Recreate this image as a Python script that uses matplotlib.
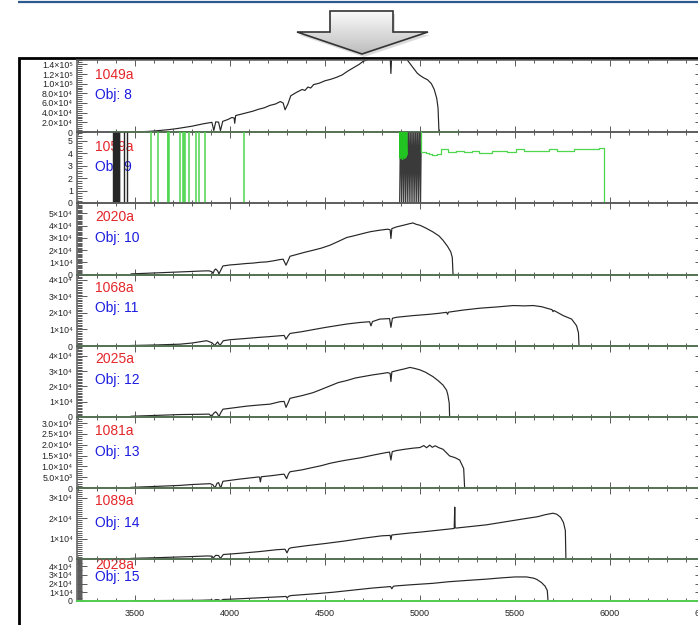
import matplotlib

matplotlib.use("Agg")
import matplotlib.pyplot as plt
import numpy as np
from matplotlib.patches import Polygon
from matplotlib.ticker import AutoMinorLocator, FixedLocator, MultipleLocator

plt.rcParams["font.family"] = ["Liberation Sans", "DejaVu Sans"]

FIG_W, FIG_H = 698, 625

# ---- data ----------------------------------------------------------------
OBJECT_NAMES = ["1049a", "1059a", "2020a", "1068a", "2025a", "1081a", "1089a", "2028a"]
OBJECT_IDS = ["Obj: 8", "Obj: 9", "Obj: 10", "Obj: 11", "Obj: 12", "Obj: 13", "Obj: 14", "Obj: 15"]
Y_MAX = [1.5e5, 5.7, 5.84e4, 4.33e4, 4.64e4, 3.28e4, 3.49e4, 4.8e4]
Y_TICKS = [
    [0, 2e4, 4e4, 6e4, 8e4, 1e5, 1.2e5, 1.4e5],
    [0, 1, 2, 3, 4, 5],
    [0, 1e4, 2e4, 3e4, 4e4, 5e4],
    [0, 1e4, 2e4, 3e4, 4e4],
    [0, 1e4, 2e4, 3e4, 4e4],
    [0, 5e3, 1e4, 1.5e4, 2e4, 2.5e4, 3e4],
    [0, 1e4, 2e4, 3e4],
    [0, 1e4, 2e4, 3e4, 4e4],
]
Y_TICK_LABELS = [
    ["0", "2.0×10⁴", "4.0×10⁴", "6.0×10⁴", "8.0×10⁴", "1.0×10⁵", "1.2×10⁵", "1.4×10⁵"],
    ["0", "1", "2", "3", "4", "5"],
    ["0", "1×10⁴", "2×10⁴", "3×10⁴", "4×10⁴", "5×10⁴"],
    ["0", "1×10⁴", "2×10⁴", "3×10⁴", "4×10⁴"],
    ["0", "1×10⁴", "2×10⁴", "3×10⁴", "4×10⁴"],
    ["0", "5.0×10³", "1.0×10⁴", "1.5×10⁴", "2.0×10⁴", "2.5×10⁴", "3.0×10⁴"],
    ["0", "1×10⁴", "2×10⁴", "3×10⁴"],
    ["0", "1×10⁴", "2×10⁴", "3×10⁴", "4×10⁴"],
]
X_TICKS = [3500, 4000, 4500, 5000, 5500, 6000, 6500]

# spectra, flux in units of 1e3
WAVE_1049 = [3480, 3520, 3560, 3600, 3640, 3680, 3720, 3760, 3800, 3830, 3860, 3890, 3905, 3915,
             3925, 3940, 3950, 3962, 3990, 4010, 4022, 4025, 4030, 4060, 4090, 4120, 4150, 4180,
             4210, 4240, 4265, 4280, 4290, 4305, 4320, 4350, 4380, 4395, 4410, 4425, 4440, 4470,
             4500, 4530, 4560, 4590, 4620, 4650, 4680, 4700, 4740, 4780, 4820, 4843, 4847, 4851,
             4890, 4920, 4935, 4960, 4985, 5000, 5020, 5040, 5060, 5075, 5088, 5095, 5100, 5110]
FLUX_1049 = [0, 0.5, 1, 2, 3.5, 5, 7, 9.5, 12, 14.5, 17, 19, 20, 3,
             21, 20.5, 3, 22, 26, 30, 29, 18, 34, 37, 40, 43, 47, 50,
             55, 58, 63, 60, 46, 58, 75, 82, 88, 86, 93, 91, 98, 101,
             106, 109, 113, 118, 126, 133, 140, 146, 152, 157, 160, 158, 121, 159,
             162, 155, 148, 135, 122, 117, 112, 108, 100, 88, 70, 50, 0, 0]

WAVE_2020 = [3480, 3560, 3640, 3737, 3800, 3858, 3890, 3905, 3911, 3918, 3925, 3935, 3942, 3950,
             3963, 4000, 4040, 4088, 4120, 4160, 4193, 4230, 4263, 4280, 4295, 4305, 4316, 4350,
             4390, 4437, 4480, 4526, 4570, 4614, 4650, 4700, 4740, 4789, 4830, 4843, 4847, 4852,
             4877, 4920, 4945, 4963, 4980, 5000, 5030, 5068, 5100, 5121, 5145, 5162, 5170, 5174, 5200]
FLUX_2020 = [0.5, 1, 1.5, 2.1, 2.5, 2.9, 3, 2.2, 0.8, 3.5, 4.5, 3, 0.5, 3,
             7, 7.8, 8.3, 9, 9.3, 10, 10.3, 11.2, 12.2, 12.5, 7.6, 11, 14.9, 16.3,
             18, 19.8, 21.5, 23.9, 27, 30.2, 31.5, 33.5, 35, 36.2, 37, 36.5, 29.4, 37.5,
             38.9, 40.5, 41.5, 42.1, 41, 40.2, 38, 34.8, 31.5, 28, 23, 18.5, 14, 0, 0]

WAVE_1068 = [3480, 3600, 3737, 3800, 3877, 3905, 3920, 3935, 3947, 3965, 4000, 4088, 4150, 4200,
             4263, 4285, 4295, 4305, 4316, 4380, 4437, 4500, 4560, 4614, 4680, 4735, 4742, 4750,
             4789, 4840, 4847, 4855, 4877, 4963, 5050, 5100, 5140, 5145, 5150, 5230, 5316, 5400,
             5491, 5550, 5596, 5640, 5667, 5695, 5700, 5705, 5754, 5798, 5824, 5834, 5837, 5900]
FLUX_1068 = [0.3, 0.6, 1.1, 1.8, 3.2, 2, 0.3, 2.5, 0.3, 3.2, 3.8, 4.6, 5.2, 5.6,
             6.2, 6.4, 4.1, 6, 7.6, 8.7, 9.9, 11.2, 12.3, 13.3, 14.2, 14.7, 12.2, 14.8,
             16.3, 16.6, 11.3, 16.8, 17.4, 18.4, 19.2, 19.8, 20.4, 19.2, 20.5, 21.8, 22.9, 23.6,
             24.5, 24.3, 24.5, 23.8, 22.9, 22, 20.8, 21.5, 18.4, 16.3, 12.3, 8, 0, 0]

WAVE_2025 = [3480, 3600, 3737, 3858, 3890, 3903, 3915, 3925, 3935, 3942, 3950, 3963, 4020, 4088,
             4150, 4211, 4263, 4285, 4295, 4305, 4316, 4380, 4437, 4480, 4526, 4570, 4614, 4660,
             4700, 4750, 4789, 4830, 4843, 4847, 4852, 4895, 4920, 4947, 4970, 5000, 5030, 5068,
             5095, 5121, 5140, 5147, 5154, 5156, 5200]
FLUX_2025 = [0.5, 1, 1.6, 1.8, 1.9, 0.3, 2.5, 3.4, 2, 0, 2.5, 5.1, 6, 7.1,
             7.8, 8.4, 10, 10.2, 6.3, 9, 12.2, 14, 15.9, 18, 20.3, 22.5, 23.8, 25.5,
             26.4, 27.5, 28.2, 29, 28.5, 23.2, 29.5, 30.8, 31.5, 32.4, 31.8, 30.8, 29.2, 26.4,
             23.8, 20.9, 17.5, 14.3, 9, 0, 0]

WAVE_1081 = [3480, 3600, 3737, 3800, 3895, 3910, 3921, 3932, 3940, 3951, 3963, 4050, 4150, 4156,
             4160, 4165, 4220, 4263, 4285, 4298, 4308, 4316, 4380, 4437, 4480, 4526, 4570, 4614,
             4690, 4754, 4824, 4840, 4847, 4854, 4877, 4920, 4963, 5000, 5020, 5035, 5051, 5065,
             5080, 5100, 5121, 5156, 5185, 5209, 5230, 5235, 5300]
FLUX_1081 = [0.3, 0.7, 1.2, 1.6, 2.0, 1.5, 0, 2.2, 2.5, 0, 3.1, 4.1, 5.1, 5.0,
             2.8, 5.2, 5.7, 6.2, 6.4, 4.3, 6.5, 7.5, 8.4, 9.5, 10.3, 11.4, 12.2, 12.9,
             14.0, 15.2, 16.4, 16.6, 12.9, 16.8, 17.3, 17.9, 18.4, 18.7, 19.6, 18.6, 19.8, 18.8,
             19.5, 18.6, 17.9, 14.8, 14, 12.9, 9.0, 0, 0]

WAVE_1089 = [3480, 3600, 3700, 3800, 3880, 3905, 3912, 3925, 3940, 3950, 3965, 4050, 4150, 4250,
             4290, 4300, 4310, 4320, 4400, 4500, 4600, 4700, 4800, 4843, 4847, 4852, 4870, 4950,
             5000, 5100, 5180, 5183, 5185, 5190, 5250, 5350, 5450, 5550, 5620, 5660, 5700, 5720,
             5740, 5755, 5765, 5768, 5820]
FLUX_1089 = [0.3, 0.6, 0.9, 1.2, 1.5, 1.4, 0.5, 1.8, 1.7, 0.3, 2.2, 2.8, 3.6, 4.6,
             4.8, 3.0, 5.0, 5.5, 6.5, 7.6, 8.8, 10.2, 11.4, 11.6, 9.5, 11.8, 12, 12.8,
             13.2, 14.2, 15, 25.5, 15.4, 15.2, 15.8, 16.8, 18.3, 19.8, 20.8, 21.8, 22.5, 22,
             20.5, 18, 14, 0, 0]

WAVE_2028 = [3480, 3700, 3842, 3905, 3912, 3925, 3940, 3950, 3965, 4016, 4150, 4280, 4295, 4300,
             4310, 4320, 4450, 4542, 4650, 4750, 4845, 4852, 4860, 4870, 4950, 5068, 5150, 5247,
             5350, 5421, 5500, 5561, 5600, 5616, 5640, 5658, 5670, 5674, 5720]
FLUX_2028 = [0.3, 0.6, 0.8, 1.2, 0.4, 1.5, 1.4, 0.4, 1.8, 2.2, 3.6, 5.0, 5.2, 3.5,
             5.5, 6.2, 8.3, 10.0, 12.5, 14.8, 16.5, 14.0, 16.8, 17.2, 18.5, 20.2, 22, 23.5,
             25, 26.3, 27.5, 27.5, 26, 24.5, 21, 17, 12, 0, 0]

# 1059a panel: flagged pixels and error curve
BLACK_SPIKES_1059 = [3386, 3390, 3394, 3398, 3402, 3406, 3410, 3414, 3418, 3444, 3456]
BLACK_ZIGZAG_W_1059 = [4893, 4898, 4903, 4908, 4913, 4918, 4923, 4928, 4933, 4938, 4943, 4948,
                       4953, 4958, 4963, 4968, 4973, 4978, 4983, 4988, 4993, 4998, 5003, 5008]
BLACK_ZIGZAG_F_1059 = [0, 7, 0, 7, 0, 7, 0, 7, 0, 7, 0, 7,
                       0, 7, 0, 7, 0, 7, 0, 7, 0, 7, 0, 7]
GREEN_SPIKES_1059 = [3584, 3623, 3673, 3676, 3679, 3737, 3754, 3758, 3763, 3786, 3821, 3838,
                     3868, 4074]
GREEN_CLUSTER_W_1059 = [4893, 4896, 4899, 4902, 4905, 4908, 4911, 4914, 4917, 4920, 4923, 4926,
                        4929, 4932]
GREEN_CLUSTER_F_1059 = [7, 3.6, 7, 3.7, 7, 3.5, 7, 3.8, 7, 3.6, 7, 3.7, 7, 3.9]
GREEN_LEVEL_W_1059 = [5003, 5005, 5030, 5050, 5065, 5090, 5110, 5118, 5150, 5190, 5230, 5275,
                      5310, 5348, 5380, 5416, 5460, 5505, 5550, 5590, 5640, 5680, 5720, 5768,
                      5810, 5852, 5900, 5940, 5970]
GREEN_LEVEL_F_1059 = [7, 4.1, 4.05, 3.9, 3.85, 3.95, 4.3, 4.3, 4.1, 4.15, 4.1, 4.2,
                      4.05, 4.0, 4.15, 4.2, 4.1, 4.3, 4.15, 4.2, 4.15, 4.35, 4.2, 4.2,
                      4.3, 4.35, 4.3, 4.4, 0]

SPECTRA = [
    (WAVE_1049, FLUX_1049), None, (WAVE_2020, FLUX_2020), (WAVE_1068, FLUX_1068),
    (WAVE_2025, FLUX_2025), (WAVE_1081, FLUX_1081), (WAVE_1089, FLUX_1089),
    (WAVE_2028, FLUX_2028),
]
GREEN_BASE_RANGES = [(3380, 5210), None, (3195, 6500), (3195, 6500), (3195, 6500),
                     (3195, 6500), (3195, 6500), (3195, 6500)]

# ---- layout (pixels) -------------------------------------------------------
PANEL_TOP = [59.5, 132, 203, 274.5, 346, 417, 488, 559]
PANEL_BOTTOM = [132, 203, 274.5, 346, 417, 488, 559, 601]
AX_LEFT, AX_RIGHT = 77, 705
X_MIN, X_MAX = 3195, 6500
RED_Y = [75, 147, 217, 288, 359, 431, 501, 565]
BLUE_Y = [95, 167, 238, 308, 380, 452, 523, 577]

BLACK = "#262626"
GREEN = "#4fd64f"
SPINE = "0.35"


def fx(px):
    return px / FIG_W


def fy(py):
    return 1 - py / FIG_H


fig = plt.figure(figsize=(FIG_W / 100, FIG_H / 100), dpi=100)
fig.patch.set_facecolor("white")

# slide decoration: blue rule, arrow, black frame
ov = fig.add_axes([0, 0, 1, 1])
ov.set_axis_off()
ov.plot([18, 698], [2, 2], color="#2c5a8e", linewidth=1.6, solid_capstyle="butt")
arrow_px = [(330, 11), (393, 11), (393, 32), (428, 32), (362, 54), (297, 32), (330, 32)]
shadow = Polygon([(x + 2, y + 3) for x, y in arrow_px], closed=True,
                 facecolor="0.45", edgecolor="none", alpha=0.25)
ov.add_patch(shadow)
arrow = Polygon(arrow_px, closed=True, facecolor="none", edgecolor="#333333",
                linewidth=1.2, zorder=3)
ov.add_patch(arrow)
grad = ov.imshow(np.linspace(0.98, 0.74, 60).reshape(-1, 1), cmap="gray", vmin=0, vmax=1,
                 extent=[297, 428, 54, 11], aspect="auto", zorder=2)
grad.set_clip_path(arrow)
ov.plot([19, 19, 720], [640, 58, 58], color="black", linewidth=2.0, solid_joinstyle="miter")
ov.set_xlim(0, FIG_W)
ov.set_ylim(FIG_H, 0)

axes = []
for i in range(8):
    top, bottom = PANEL_TOP[i], PANEL_BOTTOM[i]
    ax = fig.add_axes([fx(AX_LEFT), fy(bottom), (AX_RIGHT - AX_LEFT) / FIG_W,
                       (bottom - top) / FIG_H])
    ax.set_facecolor("none")
    axes.append(ax)

    if SPECTRA[i] is not None:
        wave, flux = SPECTRA[i]
        ax.plot(wave, np.array(flux) * 1e3, color=BLACK, linewidth=0.85, zorder=2)
    if GREEN_BASE_RANGES[i] is not None:
        ax.plot(GREEN_BASE_RANGES[i], [0, 0], color=GREEN, linewidth=1.3, zorder=4,
                clip_on=False)

    if i == 1:
        ax.vlines(BLACK_SPIKES_1059, 0, 7, color=BLACK, linewidth=1.0, zorder=2)
        ax.plot(BLACK_ZIGZAG_W_1059, BLACK_ZIGZAG_F_1059, color="#3a3a3a", linewidth=0.9,
                zorder=2)
        ax.vlines(GREEN_SPIKES_1059, 0, 7, color=GREEN, linewidth=1.1, zorder=3)
        ax.plot(GREEN_CLUSTER_W_1059, GREEN_CLUSTER_F_1059, color="#22c422", linewidth=1.2,
                zorder=3)
        ax.plot(GREEN_LEVEL_W_1059, GREEN_LEVEL_F_1059, color=GREEN, linewidth=0.9,
                drawstyle="steps-post", zorder=3)

    ax.set_xlim(X_MIN, X_MAX)
    ax.set_ylim(0, Y_MAX[i])

    ax.xaxis.set_major_locator(FixedLocator(X_TICKS))
    ax.xaxis.set_minor_locator(MultipleLocator(100))
    ax.yaxis.set_major_locator(FixedLocator(Y_TICKS[i]))
    ax.set_yticklabels(Y_TICK_LABELS[i])
    ax.yaxis.set_minor_locator(AutoMinorLocator(5 if i in (0, 1, 5) else 10))

    ax.tick_params(axis="both", which="both", direction="in", top=True, right=True,
                   color=SPINE, width=0.7)
    ax.tick_params(axis="y", which="major", length=7, labelsize=6.3, pad=3,
                   labelcolor="#222222")
    ax.tick_params(axis="y", which="minor", length=3.5)
    ax.tick_params(axis="x", which="major", length=4, labelsize=6.5, pad=6,
                   labelcolor="#222222")
    ax.tick_params(axis="x", which="minor", length=2)
    if i < 7:
        ax.tick_params(axis="x", labelbottom=False)
    for spine in ax.spines.values():
        spine.set_color(SPINE)
        spine.set_linewidth(1.1)

    ax.text(fx(95), fy(RED_Y[i]), OBJECT_NAMES[i], transform=fig.transFigure,
            color="#e4262b", fontsize=10, ha="left", va="center", zorder=1)
    ax.text(fx(95), fy(BLUE_Y[i]), OBJECT_IDS[i], transform=fig.transFigure,
            color="#1c1ce0", fontsize=10, ha="left", va="center", zorder=1)

fig.savefig("out.png", dpi=100)
